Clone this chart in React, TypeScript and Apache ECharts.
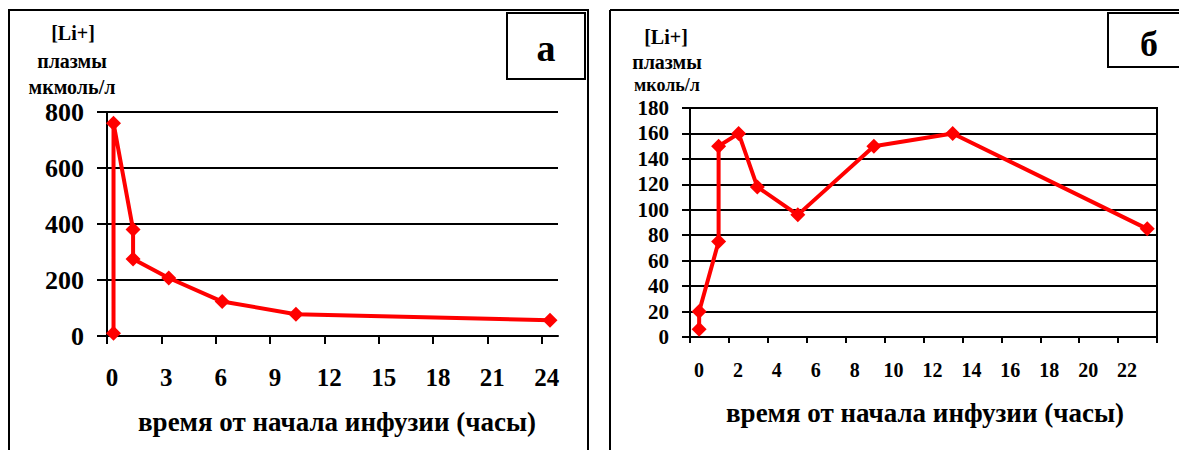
import React, { useEffect, useRef } from "react";
import * as echarts from "echarts";

// Panel "а": plasma Li+ (мкмоль/л) vs time, hours (read on the tick scale)
const leftTimes = [0.36, 0.36, 1.44, 1.44, 3.41, 6.36, 10.43, 24.46];
const leftValues = [10, 760, 380, 275, 207, 123, 78, 56];
// Panel "б"
const rightTimes = [0.47, 0.47, 1.47, 1.47, 2.5, 3.46, 5.54, 9.45, 13.5, 23.5];
const rightValues = [6, 20, 75, 150, 160, 118, 96, 150, 160, 85];

const yTitleLeft = ["[Li+]", "плазмы", "мкмоль/л"];
const yTitleRight = ["[Li+]", "плазмы", "мколь/л"];
const xTitle = "время от начала инфузии (часы)";
const panelLabels = ["а", "б"];

const FONT = "'Liberation Serif', 'Times New Roman', serif";

export default function App() {
  const ref = useRef<HTMLDivElement>(null);
  useEffect(() => {
    if (!ref.current) return;
    const chart = echarts.init(ref.current, null, { renderer: "svg" });
    const axisBase = {
      axisLine: { show: true, lineStyle: { color: "#000", width: 2 } },
    };
    const txt = (text: string, x: number, y: number, size: number) => ({
      type: "text",
      x,
      y,
      style: {
        text,
        fill: "#000",
        font: `bold ${size}px ${FONT}`,
        textAlign: "center",
        textVerticalAlign: "middle",
      },
    });
    chart.setOption({
      animation: false,
      backgroundColor: "#fff",
      grid: [
        { left: 107, top: 112, width: 451, height: 224 },
        { left: 690, top: 108, width: 467, height: 229, show: true, borderColor: "#000", borderWidth: 2 },
      ],
      xAxis: [
        {
          gridIndex: 0,
          type: "value",
          min: 0,
          max: 24.9,
          interval: 3,
          ...axisBase,
          axisTick: { show: true, length: 8, lineStyle: { color: "#000", width: 2 } },
          splitLine: { show: false },
          axisLabel: {
            margin: 29,
            padding: [0, 0, 0, 10],
            color: "#000",
            fontFamily: FONT,
            fontWeight: "bold",
            fontSize: 25,
            showMaxLabel: false,
            formatter: (v: number) => (Math.abs(v % 3) < 1e-6 ? String(v) : ""),
          },
        },
        {
          gridIndex: 1,
          type: "value",
          min: 0,
          max: 24,
          interval: 2,
          ...axisBase,
          axisTick: { show: true, length: 6, lineStyle: { color: "#000", width: 2 } },
          splitLine: { show: false },
          axisLabel: {
            margin: 23,
            padding: [0, 0, 0, 18],
            color: "#000",
            fontFamily: FONT,
            fontWeight: "bold",
            fontSize: 20,
            formatter: (v: number) => (v >= 24 ? "" : String(v)),
          },
        },
      ],
      yAxis: [
        {
          gridIndex: 0,
          type: "value",
          min: 0,
          max: 800,
          interval: 200,
          ...axisBase,
          axisTick: { show: true, length: 10, lineStyle: { color: "#000", width: 2 } },
          splitLine: { show: true, lineStyle: { color: "#000", width: 2 } },
          axisLabel: {
            margin: 23,
            color: "#000",
            fontFamily: FONT,
            fontWeight: "bold",
            fontSize: 26,
          },
        },
        {
          gridIndex: 1,
          type: "value",
          min: 0,
          max: 180,
          interval: 20,
          ...axisBase,
          axisTick: { show: true, length: 8, lineStyle: { color: "#000", width: 2 } },
          splitLine: { show: true, lineStyle: { color: "#000", width: 2 } },
          axisLabel: {
            margin: 21,
            color: "#000",
            fontFamily: FONT,
            fontWeight: "bold",
            fontSize: 21,
          },
        },
      ],
      series: [
        {
          type: "line",
          xAxisIndex: 0,
          yAxisIndex: 0,
          data: leftTimes.map((t, i) => [t, leftValues[i]]),
          symbol: "diamond",
          symbolSize: 15,
          lineStyle: { color: "#ff0000", width: 4 },
          itemStyle: { color: "#ff0000" },
        },
        {
          type: "line",
          xAxisIndex: 1,
          yAxisIndex: 1,
          data: rightTimes.map((t, i) => [t, rightValues[i]]),
          symbol: "diamond",
          symbolSize: 15,
          lineStyle: { color: "#ff0000", width: 4 },
          itemStyle: { color: "#ff0000" },
        },
      ],
      graphic: [
        { type: "rect", shape: { x: 9, y: 10, width: 579, height: 460 }, style: { fill: "none", stroke: "#000", lineWidth: 2 } },
        { type: "line", shape: { x1: 610, y1: 10, x2: 1180, y2: 10 }, style: { stroke: "#000", lineWidth: 2 } },
        { type: "line", shape: { x1: 610, y1: 10, x2: 610, y2: 460 }, style: { stroke: "#000", lineWidth: 2 } },
        { type: "rect", shape: { x: 507, y: 13, width: 78, height: 66 }, style: { fill: "#fff", stroke: "#000", lineWidth: 2 } },
        { type: "rect", shape: { x: 1108, y: 13, width: 80, height: 54 }, style: { fill: "#fff", stroke: "#000", lineWidth: 2 } },
        txt(panelLabels[0], 546, 48, 38),
        txt(panelLabels[1], 1149, 44, 36),
        txt(yTitleLeft[0], 73, 33, 20),
        txt(yTitleLeft[1], 72, 61, 20),
        txt(yTitleLeft[2], 72, 87, 20),
        txt(yTitleRight[0], 666, 37, 20),
        txt(yTitleRight[1], 667, 62, 20),
        txt(yTitleRight[2], 667, 85, 18),
        txt(xTitle, 337, 422, 27),
        txt(xTitle, 925, 413, 27),
      ],
    });
    return () => chart.dispose();
  }, []);
  return (
    <div
      ref={ref}
      style={{ position: "absolute", left: 0, top: 0, width: 1179, height: 450 }}
    />
  );
}
